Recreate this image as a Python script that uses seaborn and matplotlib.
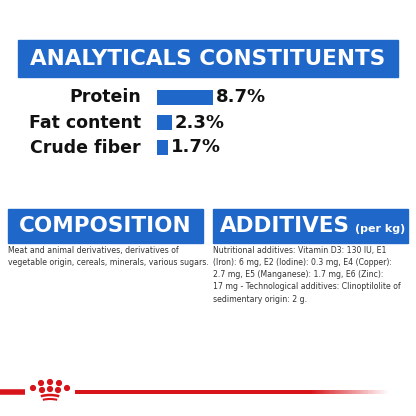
import matplotlib
matplotlib.use("Agg")
import matplotlib.pyplot as plt
import seaborn as sns
import pandas as pd
from matplotlib.patches import Rectangle, Circle, Arc
from matplotlib.colors import LinearSegmentedColormap
import numpy as np

labels = ["Protein", "Fat content", "Crude fiber"]
values = [8.7, 2.3, 1.7]
value_labels = ["8.7%", "2.3%", "1.7%"]
title = "ANALYTICALS CONSTITUENTS"
comp_title = "COMPOSITION"
add_title = "ADDITIVES"
comp_text = "Meat and animal derivatives, derivatives of\nvegetable origin, cereals, minerals, various sugars."
add_text = ("Nutritional additives: Vitamin D3: 130 IU, E1\n(Iron): 6 mg, E2 (Iodine): 0.3 mg, E4 (Copper):\n"
            "2.7 mg, E5 (Manganese): 1.7 mg, E6 (Zinc):\n17 mg - Technological additives: Clinoptilolite of\nsedimentary origin: 2 g.")

BLUE = "#1f67c8"
RED = "#d7141a"
fig = plt.figure(figsize=(4.16, 4.16), dpi=100)
ax = fig.add_axes([0, 0, 1, 1])
ax.set_xlim(0, 416); ax.set_ylim(416, 0); ax.axis("off")

ax.add_patch(Rectangle((18, 40), 380, 37, color=BLUE))
ax.text(208, 59, title, color="white", fontsize=15.5, fontweight="bold", ha="center", va="center")
ax.add_patch(Rectangle((8, 209), 195, 34, color=BLUE))
ax.text(105, 226, comp_title, color="white", fontsize=15.5, fontweight="bold", ha="center", va="center")
ax.add_patch(Rectangle((213, 209), 195, 34, color=BLUE))
ax.text(220, 226, add_title, color="white", fontsize=15.5, fontweight="bold", ha="left", va="center")
ax.text(405, 229, "(per kg)", color="white", fontsize=8, fontweight="bold", ha="right", va="center")
ax.text(8, 246, comp_text, fontsize=5.6, va="top", color="#333333", linespacing=1.45)
ax.text(213, 246, add_text, fontsize=5.6, va="top", color="#333333", linespacing=1.45)

rows_y = [97, 123, 148]
for lab, y in zip(labels, rows_y):
    ax.text(141, y, lab, fontsize=12.5, fontweight="bold", ha="right", va="center", color="#111111")

bax = fig.add_axes([157/416, 1-160/416, 120/416, 75/416])
df = pd.DataFrame({"label": labels, "value": values})
sns.barplot(data=df, x="value", y="label", color=BLUE, width=0.62, ax=bax, saturation=1)
bax.set_xlim(0, 120/6.44)
bax.axis("off")
for i, (v, t) in enumerate(zip(values, value_labels)):
    bax.text(v + 0.5, i, t, fontsize=13, fontweight="bold", va="center", ha="left", color="#111111")

ax.plot([0, 25], [392, 392], color=RED, lw=4, solid_capstyle="butt")
cmap = LinearSegmentedColormap.from_list("f", [(0, RED), (0.75, RED), (1, "#ffffff")])
ax.imshow(np.linspace(0, 1, 200)[None, :], cmap=cmap, extent=(75, 390, 394, 390), aspect="auto")
ax.set_xlim(0, 416); ax.set_ylim(416, 0)
for cx, cy in [(33, 388), (41, 383), (50, 382), (59, 383), (67, 388), (42, 390), (50, 389), (58, 390)]:
    ax.add_patch(Circle((cx, cy), 2.4, color=RED))
ax.add_patch(Arc((50, 404), 36, 18, theta1=220, theta2=320, color=RED, lw=1.8))
ax.add_patch(Arc((50, 407), 32, 16, theta1=225, theta2=315, color=RED, lw=1.5))

fig.savefig("out.png", dpi=100)
